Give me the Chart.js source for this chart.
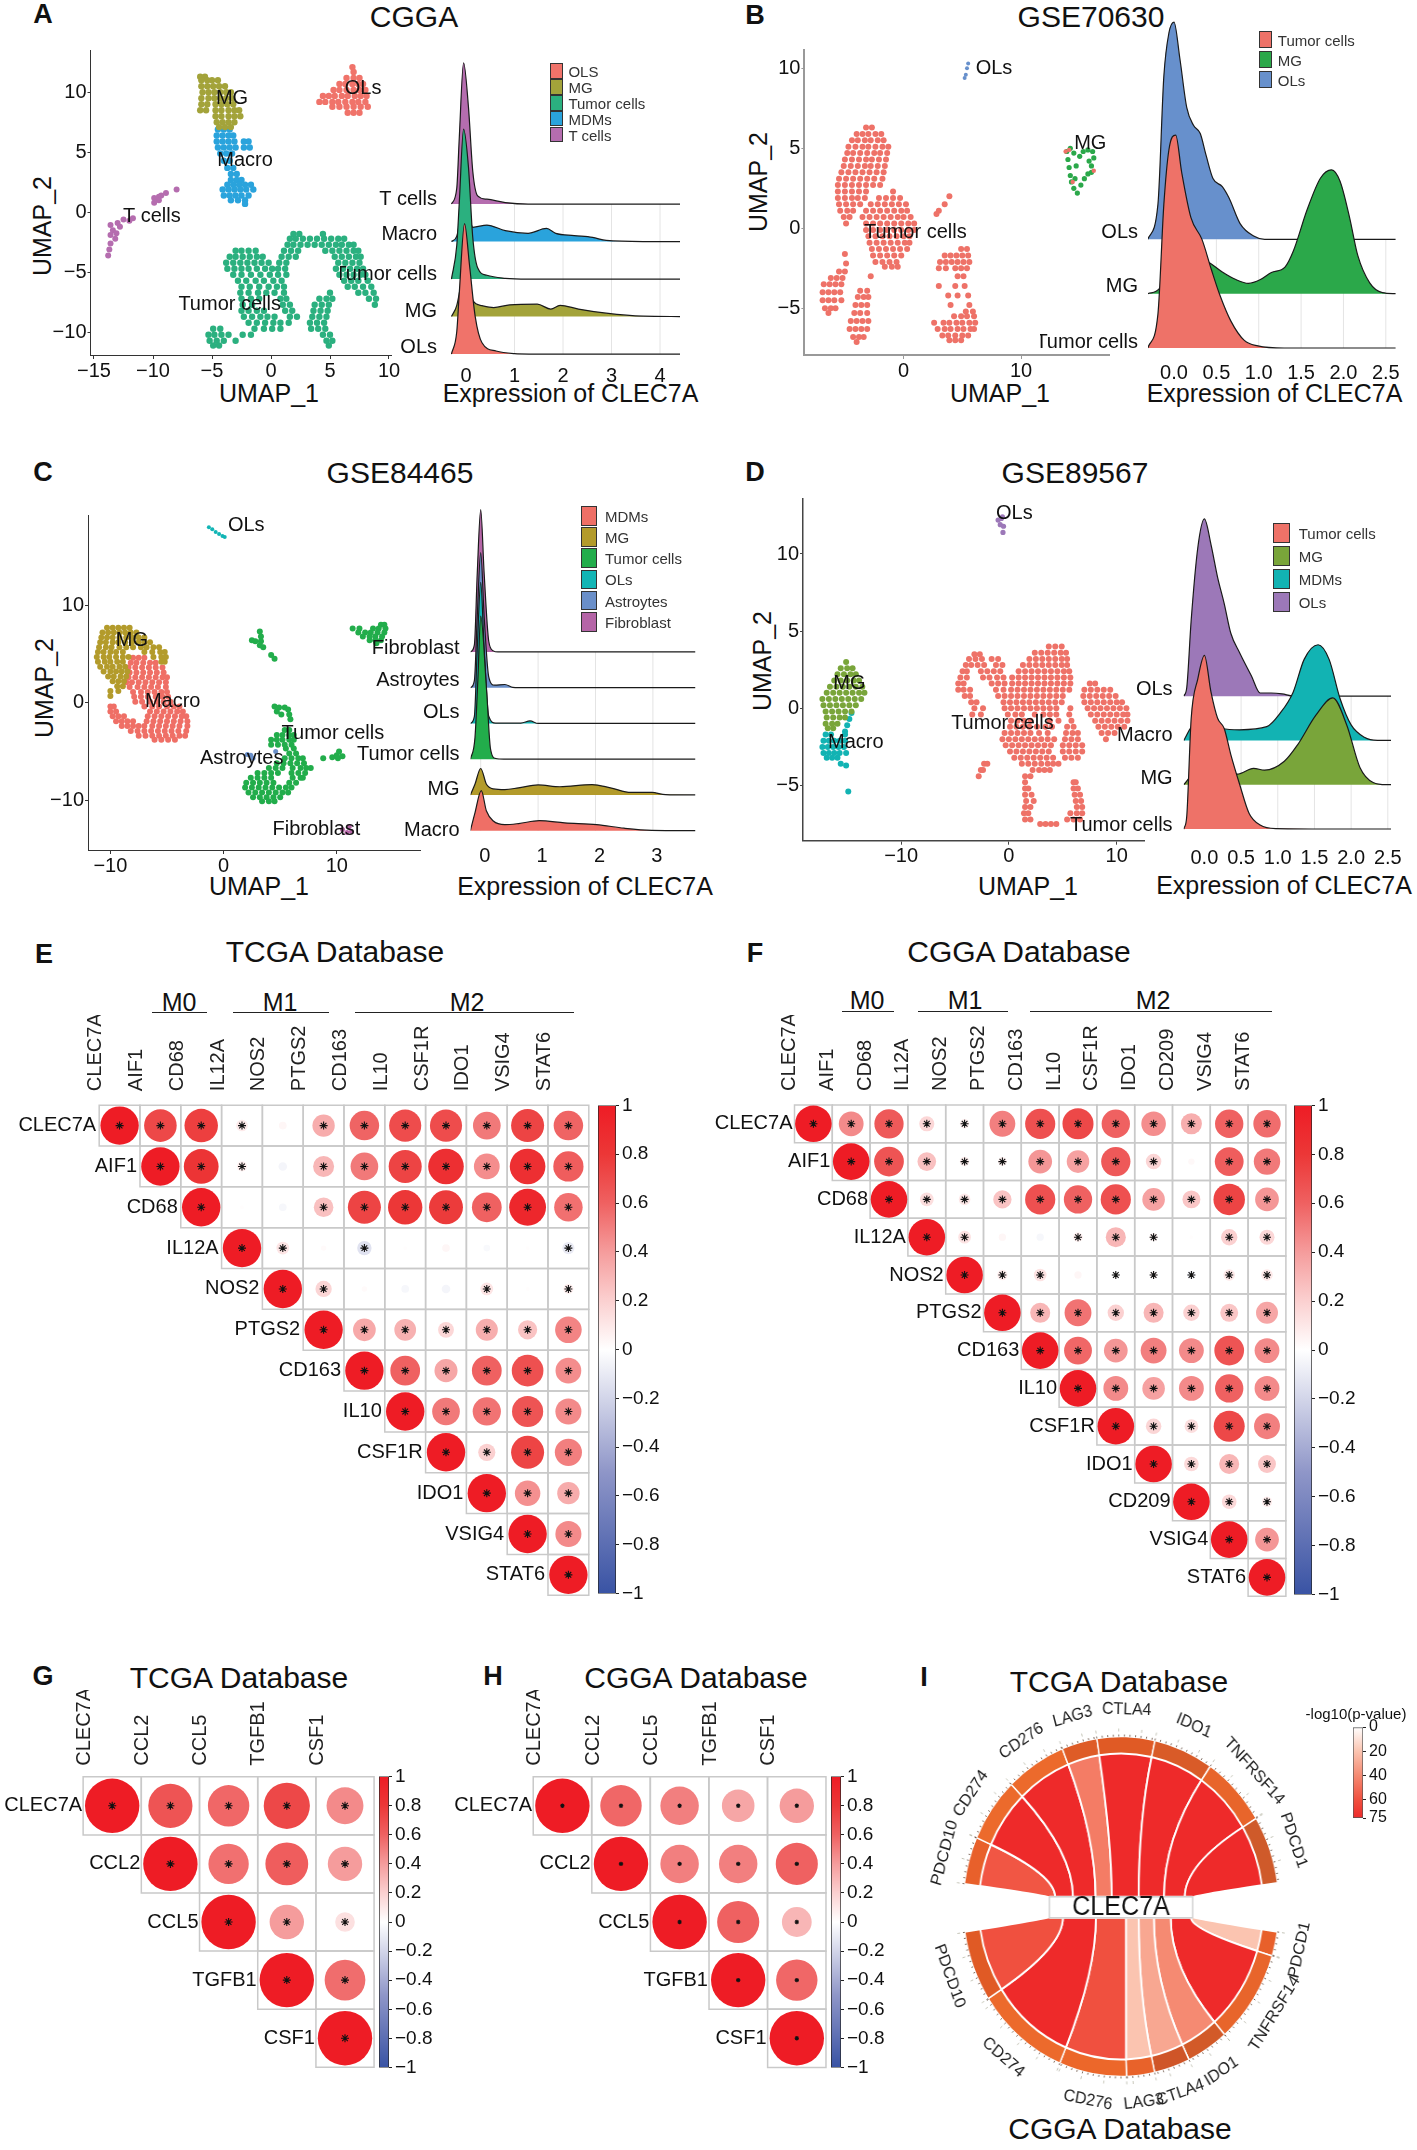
<!DOCTYPE html>
<html>
<head>
<meta charset="utf-8">
<script src="https://cdn.jsdelivr.net/npm/chart.js@4"></script>
<style>
  body { margin: 0; background: #fff; width: 1417px; height: 2150px; position: relative; overflow: hidden; font-family: 'Liberation Sans', Arial, sans-serif; color: #111; }
  canvas { position: absolute; }
  .t { position: absolute; white-space: nowrap; line-height: 1; }
</style>
</head>
<body>
<script>
// umap points are rows: [y, x1, x2, ...]
const umapA_OLs = [[12.1,6.9],[11.7,7],[11.2,6.4,7,7.5],[10.7,5.8,6.3,6.9,7.4,7.8],[10.2,5.3,5.8,6.4,7,7.5,8],[9.7,4.4,4.9,5.4,6,6.5,7.1,7.6,8.1],[9.2,4.1,4.6,5.2,5.7,6.3,6.9,7.4,8],[8.8,5.2,5.8,6.4,7,7.6,8.2],[8.3,6.5,7,7.5]];
const umapA_MG = [[11.3,-6,-5.6],[11,-5.9,-5.4,-5,-4.5],[10.5,-5.9,-5.4,-4.9,-4.4,-3.9],[10,-5.8,-5.3,-4.8,-4.3,-3.8,-3.4],[9.5,-5.9,-5.3,-4.8,-4.3,-3.8,-3.3],[9,-5.9,-5.4,-4.7,-4.2,-3.7,-3.2],[8.5,-6,-5.5,-4.7,-4.2,-3.6,-3.1,-2.7],[8,-4.7,-4.2,-3.6,-3.1,-2.6],[7.5,-4.6,-4.1,-3.6,-3.1],[7.1,-4.4,-3.9,-3.4]];
const umapA_Macro = [[6.9,-4.5,-4,-3.5],[6.4,-4.6,-4.1,-3.6,-3.2],[5.9,-4.6,-4.1,-3.6,-3.1,-2.3,-1.9],[5.4,-4.5,-4,-3.5,-3,-2.3,-1.8],[4.9,-4.3,-3.8,-3.3],[4.3,-4,-3.5],[3.7,-3.7,-3.2],[3.2,-3.4,-2.9],[2.7,-3.4,-2.9,-2.5],[2.3,-3.7,-3.2,-2.7,-2.2,-1.7],[1.9,-4.1,-3.6,-3.1,-2.6,-2.1,-1.5],[1.4,-4,-3.5,-3,-2.5,-1.9],[1,-3.4,-2.8,-2.2],[.7,-2.2]];
const umapA_T = [[1.9,-8],[1.6,-8.9],[1.3,-9.5],[1.2,-9.9],[1,-9.5],[.8,-9.9],[1.4,-9.3],[-.5,-11.7],[-.6,-12.5],[-.9,-13],[-1.05,-13.6],[-1.5,-13.4],[-1.9,-13.6],[-2.2,-13.2],[-2.6,-13.6],[-3.1,-13.7],[-3.6,-13.8],[-.7,-12],[-1.2,-12.8],[-1.75,-13.1]];
const umapA_Tumor = [[-1.8,1.9,2.4,4.4],[-2.2,1.6,2.1,2.7,3.3,3.9,4.5,5.1,5.7,6.2],[-2.7,1.4,1.9,2.5,3.1,3.7,4.3,4.9,5.5,6,6.6,7],[-3.2,-3,-2.5,-1.9,-1.3,1.1,1.7,2.3,4.6,5.2,5.8,6.4,7,7.4],[-3.7,-3.5,-3,-2.4,-1.8,-1.2,-.7,.9,1.5,2.1,5.4,6,6.6,7.2,7.6],[-4.2,-3.8,-3.2,-2.6,-2,-1.4,-.8,-.2,.7,1.3,5.7,6.3,6.9,7.5],[-4.7,-3.7,-3.1,-2.5,-1.9,-1.2,-.5,.1,.6,1.2,5.5,6.1,6.7,7.3,7.8],[-5.2,-3.2,-2.5,-1.7,-.9,-.1,.6,1.3,5.8,6.4,7,7.6,8],[-5.7,-2.8,-2.1,-1.3,-.6,.2,.9,6.2,6.8,7.4,8.2],[-6.2,-2.5,-1.8,-1,-.2,.5,1.1,6.5,7.1,7.8,8.5],[-6.7,-2.6,-1.9,-1.1,-.4,.3,1.1,5,7.4,8,8.7],[-7.2,-2.5,-1.7,-1,.8,1.3,4.1,4.7,5.2,8.3,8.9],[-7.7,-2.4,-1.6,1,1.6,3.7,4.3,4.9,8.8],[-8.2,-2.5,-1.9,-1.2,-.6,1.2,1.8,3.6,4.2,4.8],[-8.7,-2.3,-1.6,-.9,-.3,.3,1.6,2.2,3.5,4.1,4.7],[-9.2,-1.9,-1.2,-.5,.2,.8,1.5,3.3,3.9,4.5],[-9.7,-4.9,-4.3,-1.4,-.6,.1,.8,3.4,4,4.6],[-10.2,-5.3,-4.8,-4.2,-3.6,-2.4,-1.7,4.4,5],[-10.7,-5.2,-4.6,-4,-3,4.7,5.2],[-11.1,-4.9,-4.4,4.9]];

const umapB_Tumor = [[6.3,-3.2,-2.7],[5.9,-4,-3.5,-3,-2.4,-1.9],[5.5,-4.4,-3.9,-3.3,-2.8,-2.2,-1.7],[5.1,-4.7,-4.1,-3.5,-3,-2.4,-1.8,-1.3],[4.7,-4.8,-4.3,-3.7,-3.1,-2.5,-2,-1.4],[4.3,-5,-4.4,-3.8,-3.2,-2.7,-2.1,-1.5],[3.9,-5.1,-4.5,-3.9,-3.3,-2.8,-2.2,-1.6],[3.5,-5.3,-4.7,-4.1,-3.5,-2.9,-2.3,-1.7],[3.1,-5.5,-4.9,-4.3,-3.7,-3.1,-2.5,-1.8],[2.7,-5.6,-5,-4.4,-3.8,-3.2,-2.6,-2],[2.3,-5.6,-5,-4.4,-3.8,-3.2,-.9],[1.9,-5.6,-5,-4.4,-3.9,-3.3,-2.1,-1.5,-.9,-.3],[1.5,-5.5,-4.9,-4.3,-3.7,-2.8,-2.2,-1.6,-1,-.4,.2],[1.1,-5.4,-4.8,-4.3,-3.2,-2.6,-2,-1.4,-.8,-.2,.3],[.7,-5.1,-4.6,-3.5,-2.9,-2.3,-1.7,-1.1,-.5,0,.6],[.3,-4.9,-3.2,-2.6,-2,-1.4,-.8,-.2,.4,.9],[-.1,-3.2,-2.6,-2,-1.4,-.8,-.2,.4,.9],[-.5,-3,-2.4,-1.8,-1.2,-.6,0,.5],[-.9,-2.9,-2.3,-1.7,-1.1,-.5,.1,.5],[-1.3,-2.7,-2.1,-1.5,-.9,-.3,.3],[-1.7,-2.6,-2,-1.4,-.8,-.2],[-2.1,-2.4,-1.8,-1.2,-.6],[-2.4,-1.6,-1,-.5],[2,3.9],[1.5,3.5],[1.1,3],[.9,2.8],
  [-1.3,4.9,5.4],[-1.7,3.5,4,4.5,5,5.5],[-2.1,3.1,3.6,4.1,4.6,5.1,5.6],[-2.5,3,3.6,4.4,4.9,5.4],[-3,4.6,5.1],[-3.6,3,4.4,5.2],[-4.2,3.8,4.6,5.5],[-4.8,4,5.6],[-5.2,5.3,5.9],[-5.5,4.3,4.9,5.4,6],[-5.9,2.6,3.4,3.9,4.5,5,5.6,6.1],[-6.3,2.9,3.5,4,4.6,5.1,5.7,6],[-6.7,3.3,3.8,4.4,5,5.5],[-7,3.9,4.4,4.9],
  [-2.7,-5.5,-5],[-3.1,-6.2,-5.7,-5.2],[-3.5,-6.8,-6.3,-5.8,-5.3],[-4,-6.9,-6.4,-5.9,-5.4],[-4.5,-6.9,-6.4,-5.9,-5.3],[-5,-6.7,-6.2,-5.8],[-5.3,-6.4],[-1.6,-5],[-2.2,-4.9],[-3,-2.8],
  [-3.9,-3.7,-3.1],[-4.3,-3.9,-3.4,-3],[-4.8,-4.1,-3.6,-3.1],[-5.3,-4.2,-3.7,-3.1],[-5.8,-4.5,-4,-3.5,-3],[-6.3,-4.6,-4.1,-3.6,-3.1],[-6.8,-4.3,-3.8,-3.4],[-7.1,-4]];
const umapB_MG = [[4.8,13.9,15.3,16.1],[5,14.2],[4.7,14.5],[4.3,14],[3.8,14.1],[3.3,14.2],[2.9,14.3],[2.5,14.5],[2.2,14.8],[2.7,15.1],[3.1,15.4],[3.4,15.7],[3.9,16,14.7],[4.4,16.2],[4.9,15.7],[4.2,15.8],[3.5,16],[4.5,15],[3.1,14.6]];
const umapB_MGstray = [[4.8,13.8],[4.9,14.1],[3.6,16.2],[2.9,14.4]];
const umapB_OLs = [[9.6,5.3],[10,5.4],[10.3,5.5],[9.4,5.2]];

const umapC_MG = [[7.7,-10.3,-9.8,-9.3,-8.8,-8.3],[7.2,-10.7,-10.2,-9.7,-9.2,-8.7,-8.2,-7.7],[6.7,-10.8,-10.3,-9.8,-9.2,-8.6,-8,-7.5,-7],[6.2,-10.9,-10.4,-9.8,-9.3,-8.7,-8.1,-7.5,-7,-6.5],[5.7,-11,-10.4,-9.9,-9.2,-8.6,-8,-7.3,-6.8,-6.2,-5.7],[5.2,-11.1,-10.6,-10,-9.5,-8.9,-7,-6.3,-5.6,-5.2],[4.7,-11.2,-10.6,-10.1,-9.5,-8.9,-8.4,-6.2,-5.5,-5.1],[4.2,-11.1,-10.5,-10,-9.4,-8.9,-5.5,-5.2],[3.7,-10.9,-10.3,-9.8,-9.2,-8.7],[3.2,-10.6,-10,-9.5,-9,-8.5],[2.7,-10.2,-9.7,-9.1,-8.6],[2.2,-9.8,-9.3,-8.8],[1.7,-9.4,-8.9],[1.2,-10,-9.3],[.7,-10]];
const umapC_Macro = [[4.6,-8,-7.5,-7],[4.1,-8.2,-7.7,-7.1,-6.5,-6],[3.6,-8.4,-7.8,-7.2,-6.6,-6,-5.4],[3.1,-8.3,-7.7,-7.1,-6.5,-5.9,-5.3],[2.6,-8.4,-7.8,-7.2,-6.6,-6,-5.4,-5],[2.1,-8.6,-8.1,-7.5,-6.9,-6.3,-5.7,-5.1],[1.6,-8.3,-7.6,-7,-6.4,-5.8,-5.1],[1.1,-8,-7.3,-6.7,-6.1,-5.5,-5],[.6,-7.9,-7.3,-6.7,-6,-5.4,-4.9],[.1,-7.8,-7.2,-6.5,-5.9,-5.3,-4.7],[-.4,-10,-9.7,-7,-6.3,-5.7,-5,-4.4,-3.9],[-.9,-10,-9.5,-6.5,-5.9,-5.3,-4.7,-4.1,-3.6],[-1.4,-9.8,-9.3,-8.8,-6.7,-6.1,-5.5,-4.9,-4.3,-3.7,-3.3],[-1.9,-9.5,-9,-8.5,-8,-6.8,-6.2,-5.6,-5,-4.4,-3.8,-3.2],[-2.4,-9,-8.5,-8,-7.5,-7,-6.3,-5.7,-5.1,-4.5,-3.9,-3.2],[-2.9,-8.2,-7.6,-7,-6.4,-5.8,-5.2,-4.6,-4,-3.3],[-3.4,-7.5,-6.9,-6.3,-5.7,-5.1,-4.5,-3.9,-3.4],[-3.8,-6.1,-5.5,-4.9,-4.3]];
const umapC_Tumor = [[8,13.9,14.2],[7.6,11.4,12,13.2,13.7,14.3],[7.2,11.9,12.5,13,13.6,14.2],[6.8,12.3,12.9,13.4,14],[6.4,12.9,13.4,13.9],[6.1,13.5],[7.3,3.2],[6.8,3.3],[6.3,3.3,2.8],[6.4,2.5],[5.9,3.2],[5.7,3.5],[4.9,4.2],[4.5,4.5],[-.4,4.5],[-.5,4.9,5.4],[-.7,5.7],[-1.2,5.8,5.1],[-1.7,5.9],[-.9,4.7],[-2.8,5.4,5.8],[-3.3,4.7,5.2,5.8,6.2],[-3.8,4.2,4.7,5.2,5.8,6.2],[-4.3,4.2,4.8,5.4,6],[-4.7,5.5,6.2],[-5.2,5.8,6.4],[-5.7,5.4,6,6.6,7],[-6.2,4.7,5.3,5.9,6.5,7.1],[-6.7,4,4.6,5.2,6.1,6.8,7.3,7.7],[-7.2,3,3.6,4.2,4.8,6,6.6,7.2],[-7.7,2.4,3,3.6,4.2,6.1,6.8,7],[-8.2,2,2.6,3.2,3.8,4.4,5.8,6.4],[-8.7,1.9,2.5,3.1,3.7,4.3,4.9,5.5,6],[-9.2,2.2,2.8,3.4,4,4.6,5.2,5.7],[-9.7,2.6,3.2,3.8,4.4,5],[-10.1,3.4,4,4.5],[-5.7,8.8,10.1],[-5.6,9.6],[-5.4,10],[-5,10.2],[-5.5,10.5]];
const umapC_OLs = [[18,-1.3],[17.8,-1],[17.5,-.7],[17.3,-.4],[17.1,-.1],[17,.1]];
const umapC_Astro = [[-5.4,2.4],[-5.7,2.6],[-5,4.6],[-5.3,2.1]];
const umapC_Fib = [[-13,10.5],[-12.7,11.1],[-13.2,11.3],[-13.3,10.9]];

const umapD_Tumor = [[4,3.7,4.3,4.9],[3.6,2.4,3,3.6,4.2,4.8,5.3],[3.5,-3.2,-2.7],[3.2,-3.7,-3.1,-2.5,-1.6,-1,1.9,2.5,3.1,3.7,4.3,4.9,5.4],[2.8,-4,-3.5,-2.9,-2.3,-1.2,-.6,1.3,1.9,2.5,3.1,3.7,4.3,4.9,5.4],[2.4,-4.3,-3.9,-2.6,-2,-1.4,-.8,.9,1.5,2.1,2.7,3.3,3.9,4.5,5.1,5.6],[2,-4.5,-3.9,-2.4,-1.8,-1.1,-.5,.3,.9,1.5,2.1,2.7,3.3,3.9,4.5,5.1,5.7],[1.6,-4.7,-4.2,-1.6,-1,-.4,.3,.9,1.5,2.1,2.7,3.3,3.9,4.5,5.1,5.7,7.5,8],[1.2,-4.7,-4.2,-3.6,-1.2,-.5,.2,.8,1.4,2,2.6,3.2,3.8,4.4,5,5.6,7,7.6,8.2,8.8,9.4],[.8,-4.1,-3.6,-1,-.4,.2,.8,1.4,2,2.6,3.2,3.8,4.4,5,6.9,7.5,8.1,8.7,9.3,9.9],[.4,-3.5,-3,-.5,.1,.7,1.3,1.9,2.5,3.1,3.7,4.3,4.9,7,7.6,8.2,8.8,9.4,10,10.5],[0,-3.2,-2.4,-.4,.2,.8,1.4,2,2.6,3.2,3.8,4.4,5.7,7.3,7.9,8.5,9.1,9.7,10.3,10.9],[-.4,-3.4,-2.6,-.1,.6,1.2,2.4,3.2,3.8,4.4,5.6,7.6,8.2,8.8,9.4,10,10.6,11],[-.8,.2,.8,1.4,2,3.8,4.6,5.8,8,8.6,9.2,9.8,10.4,11],[-1.2,.1,.7,1.3,1.9,2.6,3.4,4,5.4,6,8.3,8.9,9.5,10.1,10.7],[-1.6,-.4,.2,.8,1.4,2,2.8,3.6,5.3,5.9,6.4,8.6,9.2,9.8],[-2,-.6,0,.6,1.2,1.8,2.4,3,3.6,4.2,5.2,5.8,6.4,9],[-2.4,-.3,.3,.9,1.5,2.1,2.7,3.3,3.9,5,5.6,6.2,6.8],[-2.8,.1,.7,1.3,1.9,2.5,3.1,3.7,5,5.6,6.2,6.8],[-3.2,.5,1.1,1.7,2.3,2.9,3.5,4.1,5.2,5.8,6.4],[-3.6,1.2,1.8,2.4,3,3.6,4.1,4.6,-2.3,-2],[-4,2.2,2.8,3.3,3.8,-2.6,-2.4],[-4.4,1.5,2,-2.8],[-4.8,1.5,6,6.2],[-5.2,1.5,1.8,6,6.4],[-5.6,1.5,2.1,6.1,6.6],[-6,1.6,2.3,6.2,6.7],[-6.4,1.5,2,6.3,6.8],[-6.8,1.4,1.8,5.7,6.3,6.8],[-7.2,1.5,2,5.4,6,6.6],[-7.5,2.9,3.4,3.9,4.4]];
const umapD_MG = [[3,-15.1],[2.6,-15.6,-15,-14.5],[2.2,-15.9,-15.3,-14.7,-14.2],[1.8,-16.2,-15.6,-15,-14.4,-13.9],[1.4,-16.6,-16,-15.4,-14.8,-14.2,-13.6],[1,-16.9,-16.3,-15.7,-15.1,-14.5,-13.9,-13.4],[.6,-17.3,-16.7,-16.1,-15.5,-14.9,-14.3,-13.7],[.2,-17.2,-16.6,-16,-15.4,-14.8,-14.2],[-.2,-17,-16.4,-15.8,-15.2,-14.6],[-.6,-16.9,-16.3,-15.7,-15.2],[-1,-17,-16.4,-15.9],[-1.3,-16.8,-16.3]];
const umapD_Macro = [[-.3,-14.6],[-.7,-14.8],[-1.1,-15],[-1.5,-15.2],[-1.7,-17,-16.5,-15.2],[-2.1,-17.2,-16.7,-16.2,-15.7,-15.2],[-2.5,-17.3,-16.8,-16.3,-15.8,-15.3],[-2.9,-17.2,-16.7,-16.2,-15.7,-15.1],[-3.2,-16.9,-16.4,-15.9],[-3.6,-15.6],[-3.7,-15.1],[-5.4,-14.9]];
const umapD_OLs = [[12.2,-1],[12.3,-.7],[11.9,-.8],[11.8,-.5],[12.4,-.6],[11.4,-.55]];

// ridges are [expression, density], density of 1 = one row
const ridgeA_OLs = [[-.3,0],[-.19,.6],[-.14,1.6],[-.03,3.48],[.07,2.4],[.19,1],[.33,.3],[.62,.08],[1,.01],[1.3,0],[4.43,0]];
const ridgeA_MG = [[-.3,0],[-.19,.3],[-.1,.9],[-.03,1.5],[.08,.8],[.14,.43],[.33,.29],[.57,.24],[.9,.31],[1.47,.33],[1.75,.2],[1.94,.3],[2.32,.2],[2.89,.09],[3.65,.01],[4.43,0]];
const ridgeA_Tumor = [[-.3,0],[-.19,.9],[-.14,2],[-.05,4],[.05,3],[.14,1.1],[.24,.3],[.43,.1],[.81,.02],[1.28,0],[4.43,0]];
const ridgeA_Macro = [[-.3,0],[-.19,.14],[-.12,.6],[-.03,1.3],[.1,.5],[.14,.38],[.43,.44],[.81,.29],[1.28,.22],[1.66,.35],[1.85,.22],[2.23,.16],[2.61,.11],[2.89,.03],[3.65,0],[4.43,0]];
const ridgeA_T = [[-.3,0],[-.19,.43],[-.14,1.73],[-.05,3.77],[.05,2.6],[.14,.87],[.24,.22],[.43,.13],[.81,.04],[1.28,0],[4.43,0]];

const ridgeB_Tumor = [[-.31,0],[-.19,.62],[-.12,2.64],[-.06,3.65],[.02,3.92],[.09,3.24],[.2,2.4],[.33,2],[.44,1.45],[.54,.98],[.67,.5],[.83,.14],[.99,.04],[1.3,0],[2.62,0]];
const ridgeB_MG = [[-.31,0],[-.17,.1],[-.06,.6],[0,.9],[.2,.75],[.41,.58],[.57,.4],[.73,.26],[.88,.19],[1.02,.26],[1.15,.39],[1.31,.49],[1.41,.79],[1.57,1.54],[1.73,2.13],[1.86,2.28],[1.96,2.07],[2.07,1.42],[2.17,.7],[2.31,.2],[2.46,.02],[2.62,0]];
const ridgeB_OLs = [[-.31,0],[-.19,.64],[-.12,3],[-.06,3.8],[0,4],[.07,3.32],[.15,2.43],[.23,2.1],[.31,1.95],[.38,1.54],[.46,1.12],[.57,.97],[.65,.76],[.78,.29],[.94,.06],[1.07,0],[2.62,0]];

const ridgeC_Macro = [[-.18,0],[-.1,.5],[.01,1.12],[.1,.55],[.22,.27],[.42,.17],[.66,.2],[1.02,.28],[1.46,.22],[2.02,.17],[2.5,.07],[2.98,.01],[3.74,0]];
const ridgeC_MG = [[-.18,0],[-.1,.3],[0,.74],[.1,.3],[.22,.17],[.42,.15],[.66,.2],[1,.28],[1.38,.23],[1.94,.29],[2.26,.2],[2.62,.07],[2.98,.07],[3.22,.01],[3.74,0]];
const ridgeC_Tumor = [[-.18,0],[-.1,.6],[-.05,2.2],[0,4],[.1,2],[.17,.3],[.26,.02],[.4,0],[3.74,0]];
const ridgeC_OLs = [[-.18,0],[-.11,.2],[-.06,2.1],[0,3.95],[.06,2.1],[.14,.2],[.26,.01],[.7,.01],[.86,.07],[1,0],[3.74,0]];
const ridgeC_Astro = [[-.18,0],[-.11,.2],[-.06,2],[0,3.78],[.06,2],[.14,.3],[.24,.07],[.42,.09],[.56,.01],[.66,0],[3.74,0]];
const ridgeC_Fib = [[-.18,0],[-.11,.2],[-.06,2.2],[0,3.98],[.06,2.2],[.14,.3],[.22,.03],[.3,0],[3.74,0]];

const ridgeD_Tumor = [[-.28,0],[-.24,.3],[-.18,2.5],[-.09,3.39],[0,3.92],[.09,3.09],[.18,2.5],[.27,2.27],[.36,1.68],[.48,1.01],[.61,.35],[.76,.09],[.97,.01],[1.88,0],[2.55,0]];
const ridgeD_MG = [[-.28,0],[-.18,.2],[0,.35],[.45,.24],[.67,.37],[.82,.33],[1.09,.53],[1.27,.9],[1.52,1.57],[1.75,1.96],[1.94,1.35],[2.12,.39],[2.3,.05],[2.48,0],[2.55,0]];
const ridgeD_Macro = [[-.28,0],[-.18,.3],[0,.6],[.24,.27],[.48,.24],[.85,.31],[1.03,.61],[1.21,1.09],[1.36,1.83],[1.55,2.16],[1.7,1.83],[1.85,.94],[2,.35],[2.18,.07],[2.36,0],[2.55,0]];
const ridgeD_OLs = [[-.28,0],[-.24,.2],[-.18,1.72],[-.09,3.35],[0,4],[.09,3.42],[.18,2.68],[.27,2.09],[.36,1.42],[.48,.98],[.64,.46],[.76,.07],[.91,.07],[1.06,.05],[1.21,0],[2.55,0]];

// correlation matrices, each row starts at the diagonal
const genesE = ['CLEC7A','AIF1','CD68','IL12A','NOS2','PTGS2','CD163','IL10','CSF1R','IDO1','VSIG4','STAT6'];
const corrE = [
  [1,.72,.76,.09,.04,.34,.59,.7,.7,.52,.74,.59],
  [1,.82,.07,-.05,.3,.52,.74,.86,.45,.86,.62],
  [1,.01,-.04,.26,.74,.8,.78,.6,.92,.55],
  [1,.11,.02,-.14,.01,.04,-.03,.01,-.1],
  [1,.18,.02,-.04,-.05,.11,.01,.07],
  [1,.35,.32,.17,.33,.25,.48],
  [1,.6,.36,.6,.68,.45],
  [1,.52,.54,.66,.46],
  [1,.2,.74,.5],
  [1,.44,.34],
  [1,.46],
  [1]];
const noStarE = ['0,4','1,4','2,3','2,4','3,5','3,7','3,8','3,9','3,10','4,6','4,7','4,8','4,10'];
const genesF = ['CLEC7A','AIF1','CD68','IL12A','NOS2','PTGS2','CD163','IL10','CSF1R','IDO1','CD209','VSIG4','STAT6'];
const corrF = [
  [1,.46,.64,.17,.07,.5,.68,.72,.6,.45,.33,.6,.56],
  [1,.66,.26,.07,.06,.42,.38,.64,.18,.03,.62,.52],
  [1,.14,.1,.25,.68,.6,.68,.38,.24,.74,.42],
  [1,.12,.04,-.04,.07,.3,.05,.01,.2,.17],
  [1,.08,.12,.04,.02,.04,-.05,.1,.1],
  [1,.3,.54,.2,.3,.2,.24,.36],
  [1,.58,.42,.5,.46,.66,.46],
  [1,.46,.38,.46,.6,.46],
  [1,.18,.14,.72,.5],
  [1,.16,.3,.24],
  [1,.16,.08],
  [1,.42],
  [1]];
const noStarF = ['1,10','3,5','3,6','3,10','4,7'];
const genesGH = ['CLEC7A','CCL2','CCL5','TGFB1','CSF1'];
const corrG = [[1,.66,.58,.72,.46],[1,.55,.62,.4],[1,.4,.13],[1,.56],[1]];
const corrH = [[1,.58,.5,.36,.4],[1,.5,.5,.6],[1,.6,.3],[1,.58],[1]];

// chord panel: arc lengths in degrees, going clockwise from the left gap
const chordTop = ['PDCD10','CD274','CD276','LAG3','CTLA4','IDO1','TNFRSF14','PDCD1'];
const chordTopArc = [16.2,22.1,22.2,13,21.2,22,24.4,23.2];
const chordTopHub = [17,53,67,48,80,75,62,23];
const chordTopLogP = [58,75,75,45,75,75,75,75];
const chordBottom = ['PDCD1','TNFRSF14','IDO1','CTLA4','LAG3','CD276','CD274','PDCD10'];
const chordBottomArc = [8.3,32.1,15.5,13.2,10.3,24.8,34.4,24.2];
const chordBottomHub = [5,60,50,45,38,89,98,40];
const chordBottomLogP = [20,75,40,30,20,60,75,60];
const chordGaps = [7.7,16.6,8.6];
const ringTopColors = ['#E8602B','#EC6A2C','#EC6A2C','#DE5C27','#E05A25','#D95B28','#E8652B','#CF5A2A'];
const ringBottomColors = ['#E8602B','#E8652B','#D25A28','#CF5528','#E8622A','#EC672A','#EC6A2C','#E05A25'];

const corrTicks = [1,.8,.6,.4,.2,0,-.2,-.4,-.6,-.8,-1];
const corrStops = [[-1,'#3953A4'],[-.5,'#8F96C8'],[0,'#FFFFFF'],[.2,'#FBD0D0'],[.4,'#F59C9C'],[.6,'#EF6161'],[.8,'#EC3737'],[1,'#EE1C25']];
const logPTicks = [0,20,40,60,75];
const logPStops = [[0,'#FFFFFF'],[20,'#FBC4B0'],[40,'#F58A72'],[60,'#F0503F'],[75,'#EE2A2A']];

Chart.defaults.font.family = "'Liberation Sans', Arial, sans-serif";
Chart.defaults.color = '#111';
Chart.defaults.animation = false;
Chart.defaults.plugins.legend.display = false;
Chart.defaults.plugins.tooltip.enabled = false;
Chart.defaults.events = [];
Chart.defaults.responsive = false;

function hex(c) { return [1,3,5].map(i => parseInt(c.substr(i,2),16)); }
function colorAt(stops, v) {
  for (let i = 1; i < stops.length; i++) {
    if (v <= stops[i][0]) {
      const t = (v - stops[i-1][0]) / (stops[i][0] - stops[i-1][0]);
      const a = hex(stops[i-1][1]), b = hex(stops[i][1]);
      return 'rgb(' + a.map((x,k) => Math.round(x + (b[k]-x)*t)).join(',') + ')';
    }
  }
  return stops[stops.length-1][1];
}
function rows(list) { return list.flatMap(r => r.slice(1).map(x => ({x: x, y: r[0]}))); }
function range(v1, p1, v2, p2, a, b) {
  const k = (v2-v1)/(p2-p1);
  return {min: v1+(a-p1)*k, max: v1+(b-p1)*k};
}
function label(s, cx, cy, size, extra) {
  const d = document.createElement('div');
  d.className = 't';
  d.textContent = s;
  d.style.left = cx + 'px';
  d.style.top = cy + 'px';
  d.style.fontSize = size + 'px';
  d.style.transform = 'translate(-50%,-50%)' + (extra && extra.rot ? ' rotate(' + extra.rot + 'deg)' : '');
  if (extra && extra.bold) d.style.fontWeight = 'bold';
  document.body.appendChild(d);
}
function line(x1, x2, y) {
  const d = document.createElement('div');
  d.style.cssText = 'position:absolute;height:1px;background:#222;left:' + x1 + 'px;width:' + (x2-x1) + 'px;top:' + y + 'px';
  document.body.appendChild(d);
}
function legend(names, colors, x, w, top, h, step, textX, size) {
  names.forEach((n,i) => {
    const d = document.createElement('div');
    d.style.cssText = 'position:absolute;box-sizing:border-box;border:1px solid #333;left:' + x + 'px;width:' + w + 'px;top:' + (top+i*step) + 'px;height:' + h + 'px;background:' + colors[i];
    document.body.appendChild(d);
    const t = document.createElement('div');
    t.className = 't';
    t.textContent = n;
    t.style.left = textX + 'px';
    t.style.top = (top+i*step+h/2) + 'px';
    t.style.fontSize = size + 'px';
    t.style.color = '#333';
    t.style.transform = 'translateY(-50%)';
    document.body.appendChild(t);
  });
}
function canvasFor(box) {
  const c = document.createElement('canvas');
  c.width = box.r-box.l;
  c.height = box.b-box.t;
  c.style.left = box.l + 'px';
  c.style.top = box.t + 'px';
  document.body.appendChild(c);
  return c;
}
function textPlugin(items) {
  return {
    id: 'dataText',
    afterDatasetsDraw(chart) {
      const ctx = chart.ctx;
      ctx.save();
      items.forEach(it => {
        ctx.font = it.size + "px 'Liberation Sans'";
        ctx.fillStyle = '#111';
        ctx.textAlign = it.align || 'center';
        ctx.textBaseline = 'middle';
        ctx.fillText(it.text, chart.scales.x.getPixelForValue(it.x) + (it.dx||0), chart.scales.y.getPixelForValue(it.y));
      });
      ctx.restore();
    }
  };
}

function umap(o) {
  const b = o.box, p = o.plot;
  new Chart(canvasFor(b), {
    type: 'scatter',
    data: {datasets: o.series.map(s => ({data: rows(s[0]), backgroundColor: s[1], borderWidth: 0, pointRadius: s[2]}))},
    options: {
      layout: {autoPadding: false, padding: {top: p.t-b.t, right: b.r-p.r}},
      scales: {
        x: {type: 'linear', ...range(o.xCal[0],o.xCal[1],o.xCal[2],o.xCal[3],p.l,p.r),
          afterBuildTicks: s => { s.ticks = o.xTicks.map(v => ({value: v})); },
          afterFit: s => { s.height = b.b-p.b; },
          grid: {drawOnChartArea: false, tickLength: 4, color: o.axis}, border: {color: o.axis, width: o.axisW},
          ticks: {font: {size: 20}, padding: 0, maxRotation: 0, autoSkip: false, callback: v => String(v).replace('-','−')}},
        y: {type: 'linear', ...range(o.yCal[0],o.yCal[1],o.yCal[2],o.yCal[3],p.b,p.t),
          afterBuildTicks: s => { s.ticks = o.yTicks.map(v => ({value: v})); },
          afterFit: s => { s.width = p.l-b.l; },
          grid: {drawOnChartArea: false, tickLength: 3, color: o.axis}, border: {color: o.axis, width: o.axisW},
          ticks: {font: {size: 20}, padding: 1, autoSkip: false, callback: v => String(v).replace('-','−')}}
      }
    },
    plugins: [textPlugin(o.labels.map(l => ({text: l[0], x: l[1], y: l[2], size: 20})))]
  });
}

const ridgeGrid = {
  id: 'ridgeGrid',
  beforeDatasetsDraw(chart) {
    const {ctx, scales} = chart;
    ctx.save();
    ctx.strokeStyle = '#E4E4E4';
    ctx.lineWidth = 1;
    scales.x.ticks.forEach(t => {
      const x = scales.x.getPixelForValue(t.value);
      ctx.beginPath();
      ctx.moveTo(x, scales.y.getPixelForValue(chart.data.datasets.length-1));
      ctx.lineTo(x, scales.y.getPixelForValue(0));
      ctx.stroke();
    });
    ctx.restore();
  }
};
function ridge(o) {
  const b = o.box, p = o.plot;
  new Chart(canvasFor(b), {
    type: 'line',
    data: {datasets: o.series.map((s,i) => ({
      data: s[0].map(q => ({x: q[0], y: i+q[1]})),
      backgroundColor: s[1], borderColor: '#1a1a1a', borderWidth: 1.2, pointRadius: 0,
      cubicInterpolationMode: 'monotone', fill: {value: i}
    }))},
    options: {
      layout: {autoPadding: false, padding: {top: p.t-b.t, right: b.r-p.r}},
      scales: {
        x: {type: 'linear', ...range(o.xCal[0],o.xCal[1],o.xCal[2],o.xCal[3],p.l,p.r),
          afterBuildTicks: s => { s.ticks = o.xTicks.map(v => ({value: v})); },
          afterFit: s => { s.height = b.b-p.b; },
          grid: {display: false}, border: {display: false},
          ticks: {font: {size: 20}, padding: o.xPad, labelOffset: o.xOffset||0, maxRotation: 0, autoSkip: false, callback: v => o.decimals ? v.toFixed(1) : String(v)}},
        y: {type: 'linear', ...range(0,o.yCal[0],1,o.yCal[1],p.b,p.t),
          afterBuildTicks: s => { s.ticks = o.labelY.map(v => ({value: v})); },
          afterFit: s => { s.width = p.l-b.l; },
          grid: {display: false}, border: {display: false},
          ticks: {font: {size: 20}, padding: o.yPad, autoSkip: false, callback: (v,i) => o.labels[i]}}
      }
    },
    plugins: [ridgeGrid]
  });
}

function heatmap(o) {
  const n = o.genes.length, b = o.box;
  const p = {l: o.cx-o.cw/2, r: o.cx+o.cw*(n-.5), t: o.cy-o.ch/2, b: o.cy+o.ch*(n-.5)};
  const frames = [], circles = [], colors = [], stars = [], names = [];
  o.vals.forEach((row,i) => {
    names.push({text: o.genes[i], x: i, y: i, size: o.size, align: 'right', dx: -o.cw/2-o.gap});
    row.forEach((v,k) => {
      const j = i+k;
      frames.push({x: j, y: i, r: (o.cw+o.ch)/2*Math.SQRT1_2});
      circles.push({x: j, y: i, r: o.rMax*Math.sqrt(Math.abs(v))});
      colors.push(colorAt(corrStops, v));
      if (!o.noStar || !o.noStar.includes(i+','+j)) stars.push({x: j, y: i, r: o.starR});
    });
  });
  new Chart(canvasFor(b), {
    type: 'bubble',
    data: {datasets: [
      {data: stars, pointStyle: 'star', borderColor: '#111', borderWidth: 1.1, backgroundColor: '#111', clip: false},
      {data: circles, backgroundColor: colors, borderWidth: 0, clip: false},
      {data: frames, pointStyle: 'rect', borderColor: '#C9C9C9', borderWidth: 1.5, backgroundColor: 'rgba(0,0,0,0)', clip: false}
    ]},
    options: {
      layout: {autoPadding: false, padding: {left: p.l-b.l, right: b.r-p.r, bottom: b.b-p.b}},
      scales: {
        x: {type: 'linear', position: 'top', min: -.5, max: n-.5,
          afterBuildTicks: s => { s.ticks = o.genes.map((g,i) => ({value: i})); },
          afterFit: s => { s.height = p.t-b.t; },
          grid: {display: false}, border: {display: false},
          ticks: {font: {size: o.size}, color: '#222', minRotation: 90, maxRotation: 90, padding: o.topPad, labelOffset: o.topOffset||0, autoSkip: false, callback: v => o.genes[v]}},
        y: {type: 'linear', reverse: true, display: false, min: -.5, max: n-.5}
      }
    },
    plugins: [textPlugin(names)]
  });
}

function colorbar(o) {
  const b = {l: o.l, r: o.r+o.room, t: o.t-14, b: o.b+14};
  new Chart(canvasFor(b), {
    type: 'bar',
    data: {labels: [''], datasets: [{
      data: [[o.ticks[o.ticks.length-1], o.ticks[0]]],
      barPercentage: 1, categoryPercentage: 1, borderWidth: 1, borderSkipped: false, borderColor: o.edge,
      backgroundColor: c => {
        const a = c.chart.chartArea;
        if (!a) return '#fff';
        const g = c.chart.ctx.createLinearGradient(0, a.top, 0, a.bottom);
        const s = o.stops, lo = s[0][0], hi = s[s.length-1][0];
        s.forEach(q => { g.addColorStop(o.reverse ? (q[0]-lo)/(hi-lo) : (hi-q[0])/(hi-lo), q[1]); });
        return g;
      }
    }]},
    options: {
      layout: {autoPadding: false, padding: {top: 14, bottom: 14}},
      scales: {
        x: {display: false},
        y: {type: 'linear', position: 'right', reverse: !!o.reverse, min: Math.min(...o.ticks), max: Math.max(...o.ticks),
          afterBuildTicks: s => { s.ticks = o.ticks.map(v => ({value: v})); },
          afterFit: s => { s.width = o.room; },
          grid: {drawOnChartArea: false, tickLength: 3, color: '#222'}, border: {display: false},
          ticks: {font: {size: o.size}, padding: 3, autoSkip: false, callback: v => String(v).replace('-','−')}}
      }
    }
  });
}

// ---------- panel titles ----------
[['A',43,14],['B',755,15],['C',43,472],['D',755,472],['E',44,954],['F',755,953],['G',43,1676],['H',493,1676],['I',924,1677]]
  .forEach(l => label(l[0], l[1], l[2], 27, {bold: true}));
[['CGGA',414,17],['GSE70630',1091,17],['GSE84465',400,473],['GSE89567',1075,473],['TCGA Database',335,952],['CGGA Database',1019,952],['TCGA Database',239,1678],['CGGA Database',696,1678],['TCGA Database',1119,1682],['CGGA Database',1120,2129]]
  .forEach(l => label(l[0], l[1], l[2], 30));
[['UMAP_1',269,393],['UMAP_1',1000,393],['UMAP_1',259,886],['UMAP_1',1028,886],['Expression of CLEC7A',570.5,393],['Expression of CLEC7A',1274.5,393],['Expression of CLEC7A',585,886],['Expression of CLEC7A',1284,885]]
  .forEach(l => label(l[0], l[1], l[2], 25));
[['UMAP_2',42,226],['UMAP_2',758,182],['UMAP_2',44,688],['UMAP_2',762,661]]
  .forEach(l => label(l[0], l[1], l[2], 25, {rot: -90}));
[['M0',179,1001.5],['M1',280,1001.5],['M2',467,1001.5],['M0',867,999.5],['M1',965,999.5],['M2',1153,999.5]]
  .forEach(l => label(l[0], l[1], l[2], 25));
line(152,207,1012); line(233,329,1012); line(355,574,1012);
line(842,894,1011); line(918,1008,1011); line(1030,1272,1011);

// ---------- UMAP panels ----------
const colRed = '#EE7268', colTeal = '#12B3B3';
umap({box: {l: 0, t: 30, r: 470, b: 385}, plot: {l: 90.5, r: 391, t: 50, b: 355},
  xCal: [0,271,10,389], yCal: [0,212.3,10,92.3], xTicks: [-15,-10,-5,0,5,10], yTicks: [-10,-5,0,5,10], axis: '#333', axisW: 1,
  series: [[umapA_OLs,'#F0736A',3.2],[umapA_MG,'#A3A33A',3.2],[umapA_Macro,'#2AA3DC',3.2],[umapA_T,'#B56DAF',3],[umapA_Tumor,'#2BB07F',3.2]],
  labels: [['MG',-3.3,9.5],['OLs',7.8,10.3],['Macro',-2.2,4.3],['T cells',-10.1,-.37],['Tumor cells',-3.5,-7.7]]});
umap({box: {l: 720, t: 30, r: 1150, b: 385}, plot: {l: 804.4, r: 1109, t: 50, b: 355},
  xCal: [0,903.6,10,1021], yCal: [0,228.3,10,68.3], xTicks: [0,10], yTicks: [-5,0,5,10], axis: '#999', axisW: 2,
  series: [[umapB_OLs,'#6790CC',2],[umapB_MGstray,colRed,2.2],[umapB_MG,'#2BA84A',2.6],[umapB_Tumor,colRed,3]],
  labels: [['OLs',7.7,10],['MG',15.9,5.3],['Tumor cells',1,-.25]]});
umap({box: {l: 0, t: 495, r: 470, b: 880}, plot: {l: 88, r: 420, t: 515, b: 850},
  xCal: [0,223.6,10,336.8], yCal: [0,702.7,10,605.2], xTicks: [-10,0,10], yTicks: [-10,0,10], axis: '#333', axisW: 1,
  series: [[umapC_OLs,'#12B5B5',2],[umapC_Astro,'#6A8FC9',2.5],[umapC_Fib,'#B565A7',2.5],[umapC_MG,'#B39B2B',3],[umapC_Macro,'#EF6F66',3],[umapC_Tumor,'#22AD4B',3]],
  labels: [['OLs',2,18.2],['MG',-8.1,6.4],['Macro',-4.5,.1],['Tumor cells',9.65,-3.2],['Astroytes',1.6,-5.7],['Fibroblast',8.2,-13]]});
umap({box: {l: 720, t: 480, r: 1180, b: 875}, plot: {l: 803, r: 1144.4, t: 498.3, b: 840.7},
  xCal: [0,1008.9,10,1116.7], yCal: [0,708.3,10,554], xTicks: [-10,0,10], yTicks: [-5,0,5,10], axis: '#444', axisW: 1.5,
  series: [[umapD_OLs,'#9C78B8',2.6],[umapD_MG,'#79A53A',3],[umapD_Macro,colTeal,3],[umapD_Tumor,colRed,3]],
  labels: [['OLs',.5,12.6],['MG',-14.8,1.6],['Macro',-14.2,-2.2],['Tumor cells',-.6,-1]]});

// ---------- ridge panels ----------
ridge({box: {l: 340, t: 40, r: 700, b: 385}, plot: {l: 451, r: 680, t: 50, b: 355},
  xCal: [0,466,4,660], yCal: [354,315.5], xTicks: [0,1,2,3,4], xPad: 1, yPad: 6,
  labels: ['OLs','MG','Tumor cells','Macro','T cells'], labelY: [.17,1.14,2.13,3.18,4.13],
  series: [[ridgeA_OLs,'#F0736A'],[ridgeA_MG,'#A3A33A'],[ridgeA_Tumor,'#2BB07F'],[ridgeA_Macro,'#2AA3DC'],[ridgeA_T,'#B56DAF']]});
ridge({box: {l: 1040, t: 0, r: 1417, b: 385}, plot: {l: 1148, r: 1395.6, t: 8, b: 349},
  xCal: [0,1174,2.5,1385.8], yCal: [348,292.7], xTicks: [0,.5,1,1.5,2,2.5], xPad: 4, yPad: 2, decimals: true,
  labels: ['Tumor cells','MG','OLs'], labelY: [.11,1.14,2.12],
  series: [[ridgeB_Tumor,'#EE7268'],[ridgeB_MG,'#2BA84A'],[ridgeB_OLs,'#6790CC']]});
ridge({box: {l: 340, t: 490, r: 720, b: 880}, plot: {l: 470.6, r: 695.6, t: 500, b: 832},
  xCal: [0,480.7,3,652.9], yCal: [830.7,794.4], xTicks: [0,1,2,3], xPad: 4, xOffset: 4, yPad: 3,
  labels: ['Macro','MG','Tumor cells','OLs','Astroytes','Fibroblast'], labelY: [0,1.16,2.13,3.31,4.2,5.11],
  series: [[ridgeC_Macro,'#EF6F66'],[ridgeC_MG,'#B39B2B'],[ridgeC_Tumor,'#22AD4B'],[ridgeC_OLs,'#12B5B5'],[ridgeC_Astro,'#6A8FC9'],[ridgeC_Fib,'#B565A7']]});
ridge({box: {l: 1060, t: 500, r: 1417, b: 875}, plot: {l: 1183.6, r: 1391, t: 510, b: 830},
  xCal: [0,1204.4,2.5,1387.8], yCal: [829,784], xTicks: [0,.5,1,1.5,2,2.5], xPad: 8, yPad: 3, decimals: true,
  labels: ['Tumor cells','MG','Macro','OLs'], labelY: [.09,1.13,2.11,3.15],
  series: [[ridgeD_Tumor,'#EE7268'],[ridgeD_MG,'#79A53A'],[ridgeD_Macro,'#12B3B3'],[ridgeD_OLs,'#9C78B8']]});

legend(['OLS','MG','Tumor cells','MDMs','T cells'], ['#F0736A','#A3A33A','#2BB07F','#2AA3DC','#B56DAF'], 550, 12.5, 63, 15.8, 15.9, 568.4, 15);
legend(['Tumor cells','MG','OLs'], ['#EE7268','#2BA84A','#6790CC'], 1259, 13.4, 31, 17, 20, 1277.8, 15);
legend(['MDMs','MG','Tumor cells','OLs','Astroytes','Fibroblast'], ['#EF6F66','#B39B2B','#22AD4B','#12B5B5','#6A8FC9','#B565A7'], 580.8, 16.2, 506, 19.5, 21.2, 605, 15);
legend(['Tumor cells','MG','MDMs','OLs'], ['#EE7268','#79A53A','#12B3B3','#9C78B8'], 1273, 17, 522.7, 20.5, 23, 1298.7, 15);

// ---------- correlation panels ----------
heatmap({box: {l: 0, t: 1015, r: 595, b: 1600}, genes: genesE, vals: corrE, noStar: noStarE, cx: 119.6, cy: 1125.6, cw: 40.8, ch: 40.84, rMax: 19.2, starR: 4, size: 20, gap: 3, topPad: 6});
colorbar({l: 598, r: 616, t: 1104.8, b: 1594, room: 60, ticks: corrTicks, stops: corrStops, size: 19, edge: '#222'});
heatmap({box: {l: 700, t: 1015, r: 1290, b: 1600}, genes: genesF, vals: corrF, noStar: noStarF, cx: 813.4, cy: 1123.8, cw: 37.8, ch: 37.8, rMax: 18.3, starR: 4, size: 20, gap: 2, topPad: 6});
colorbar({l: 1294.4, r: 1312.7, t: 1104.8, b: 1595.6, room: 60, ticks: corrTicks, stops: corrStops, size: 19, edge: '#222'});
heatmap({box: {l: 0, t: 1690, r: 377, b: 2075}, genes: genesGH, vals: corrG, cx: 112.2, cy: 1805.8, cw: 58.2, ch: 58.1, rMax: 27.2, starR: 4, size: 20, gap: 1, topPad: 3, topOffset: -4});
colorbar({l: 378.8, r: 389, t: 1776, b: 2068, room: 58, ticks: corrTicks, stops: corrStops, size: 19, edge: '#222'});
heatmap({box: {l: 450, t: 1690, r: 828, b: 2075}, genes: genesGH, vals: corrH, cx: 562.4, cy: 1805.8, cw: 58.6, ch: 58.1, rMax: 27.2, starR: 2.2, size: 20, gap: 1, topPad: 3, topOffset: -4});
colorbar({l: 830.5, r: 840.6, t: 1776, b: 2068, room: 58, ticks: corrTicks, stops: corrStops, size: 19, edge: '#222'});

// ---------- chord panel ----------
const ribbons = {
  id: 'ribbons',
  afterDatasetsDraw(chart) {
    const ctx = chart.ctx, arcs = chart.getDatasetMeta(0).data, ribR = 153;
    const cx = arcs[0].x, cy = arcs[0].y, hubW = 77, hubTop = -9.7, hubBottom = 11.3;
    const group = (first, hub, logP, names, sign, hubY) => {
      const total = hub.reduce((a,b) => a+b, 0);
      let used = 0;
      hub.forEach((h,i) => {
        const arc = arcs[first+i];
        const q0 = cx + sign*(-hubW + 2*hubW*used/total);
        used += h;
        const q1 = cx + sign*(-hubW + 2*hubW*used/total);
        const y = cy + hubY;
        const p0 = {x: cx+ribR*Math.cos(arc.startAngle), y: cy+ribR*Math.sin(arc.startAngle)};
        const p1 = {x: cx+ribR*Math.cos(arc.endAngle), y: cy+ribR*Math.sin(arc.endAngle)};
        const ctrl = (p,qx) => {
          let t = Math.abs(p.x-cx) < 1 ? .5 : (qx-p.x)/(cx-p.x);
          t = Math.min(.9, Math.max(.35, t));
          return {x: qx, y: p.y+(cy-p.y)*t};
        };
        const c0 = ctrl(p0,q0), c1 = ctrl(p1,q1);
        ctx.beginPath();
        ctx.moveTo(p0.x, p0.y);
        ctx.arc(cx, cy, ribR, arc.startAngle, arc.endAngle);
        ctx.quadraticCurveTo(c1.x, c1.y, q1, y);
        ctx.lineTo(q0, y);
        ctx.quadraticCurveTo(c0.x, c0.y, p0.x, p0.y);
        ctx.closePath();
        ctx.fillStyle = colorAt(logPStops, logP[i]);
        ctx.fill();
        ctx.lineWidth = 2;
        ctx.strokeStyle = '#fff';
        ctx.stroke();
        // small ticks on the outside of the ring
        ctx.lineWidth = .8;
        for (let a = arc.startAngle; a < arc.endAngle; a += .035) {
          ctx.strokeStyle = '#5a4030';
          ctx.beginPath();
          ctx.moveTo(cx+170*Math.cos(a), cy+170*Math.sin(a));
          ctx.lineTo(cx+172*Math.cos(a), cy+172*Math.sin(a));
          ctx.stroke();
        }
        for (let a = arc.startAngle; a < arc.endAngle; a += .14) {
          ctx.strokeStyle = '#b5b5a5';
          ctx.beginPath();
          ctx.moveTo(cx+175*Math.cos(a), cy+175*Math.sin(a));
          ctx.lineTo(cx+178*Math.cos(a), cy+178*Math.sin(a));
          ctx.stroke();
        }
        const mid = (arc.startAngle+arc.endAngle)/2;
        const isTop = Math.sin(mid) < 0;
        ctx.save();
        ctx.translate(cx+197*Math.cos(mid), cy+197*Math.sin(mid));
        ctx.rotate(isTop ? mid+Math.PI/2 : mid-Math.PI/2);
        ctx.font = "17px 'Liberation Sans'";
        ctx.fillStyle = '#222';
        ctx.textAlign = 'center';
        ctx.textBaseline = 'middle';
        ctx.fillText(names[i], 0, 0);
        ctx.restore();
      });
    };
    ctx.save();
    group(1, chordTopHub, chordTopLogP, chordTop, 1, hubTop);
    group(2+chordTop.length, chordBottomHub, chordBottomLogP, chordBottom, -1, hubBottom);
    ctx.fillStyle = '#fff';
    ctx.strokeStyle = '#cfcfcf';
    ctx.lineWidth = 1.5;
    ctx.fillRect(cx-hubW, cy+hubTop, 2*hubW, hubBottom-hubTop);
    ctx.strokeRect(cx-hubW, cy+hubTop, 2*hubW, hubBottom-hubTop);
    ctx.font = "27px 'Liberation Sans'";
    ctx.fillStyle = '#111';
    ctx.textAlign = 'center';
    ctx.textBaseline = 'middle';
    ctx.fillText('CLEC7A', cx, cy+1.5);
    ctx.restore();
  }
};
const chordCanvas = canvasFor({l: 891, t: 1676.7, r: 1351, b: 2136.7});
chordCanvas.style.transform = 'scaleX(.93)';
const none = 'rgba(0,0,0,0)';
new Chart(chordCanvas, {
  type: 'doughnut',
  data: {
    labels: ['', ...chordTop, '', ...chordBottom, ''],
    datasets: [{
      data: [chordGaps[0], ...chordTopArc, chordGaps[1], ...chordBottomArc, chordGaps[2]],
      backgroundColor: [none, ...ringTopColors, none, ...ringBottomColors, none],
      borderColor: [none, ...ringTopColors.map(() => '#fff'), none, ...ringBottomColors.map(() => '#fff'), none],
      borderWidth: 1.5
    }]
  },
  options: {radius: 170, cutout: 159, rotation: -90, layout: {padding: 0}},
  plugins: [ribbons]
});
colorbar({l: 1353, r: 1363, t: 1727, b: 1818, room: 50, ticks: logPTicks, stops: logPStops, size: 16, edge: '#555', reverse: true});
label('-log10(p-value)', 1356, 1713, 15);
</script>
</body>
</html>
